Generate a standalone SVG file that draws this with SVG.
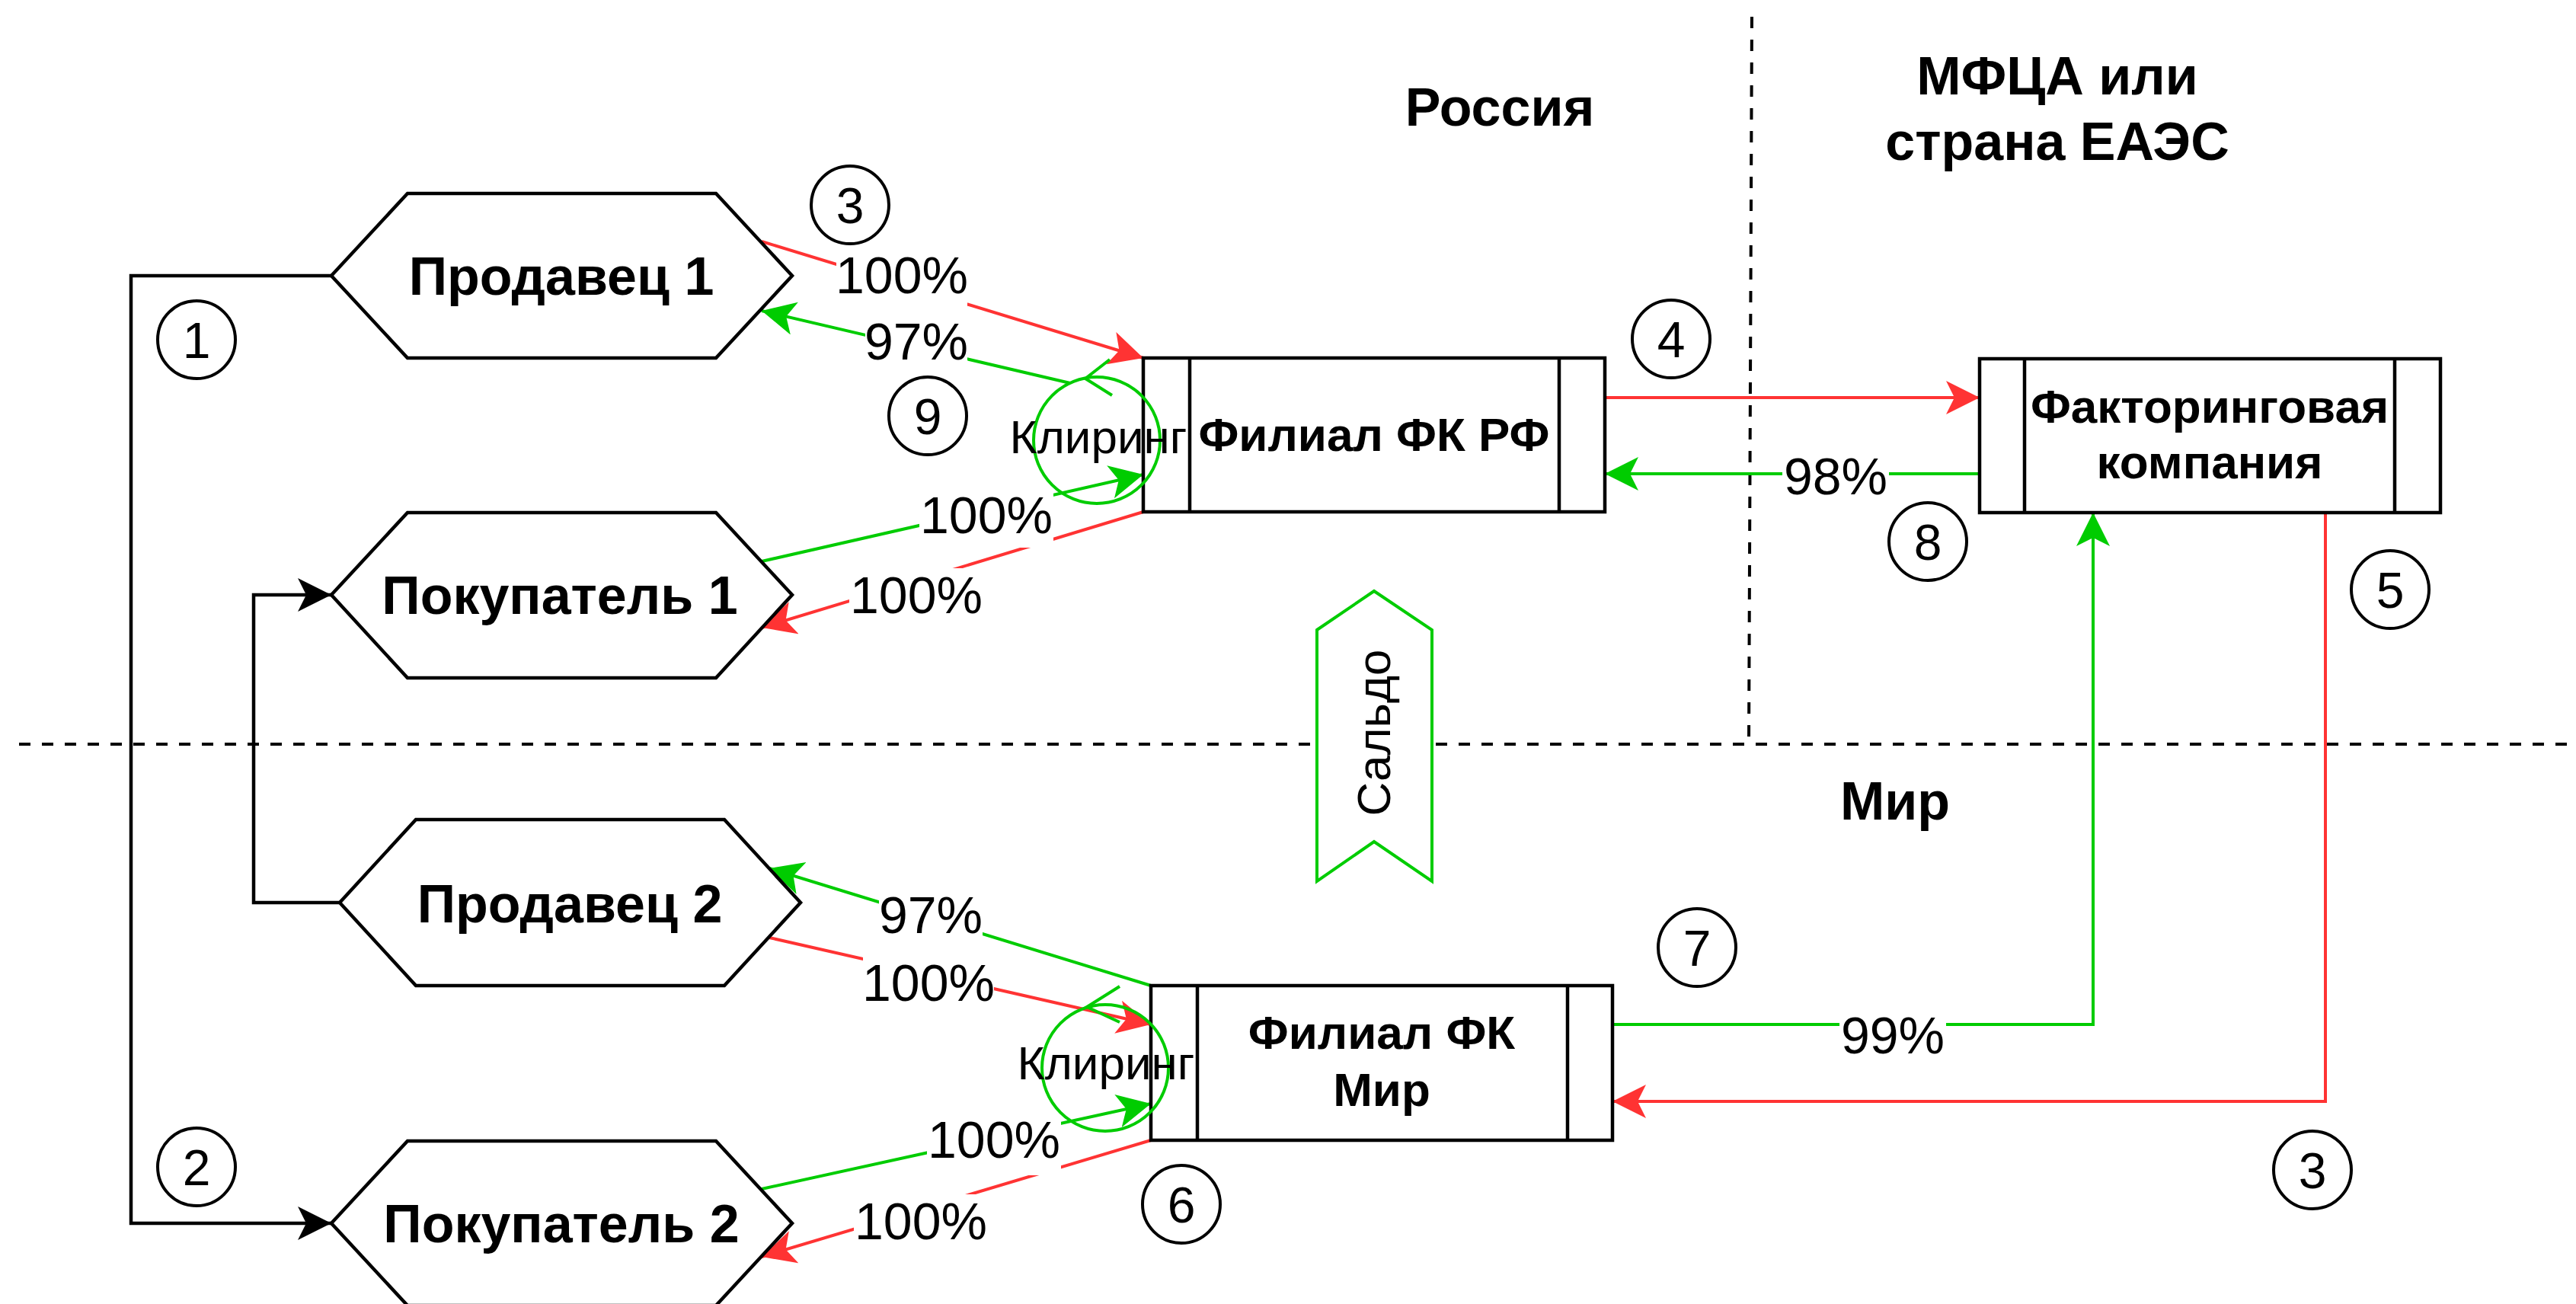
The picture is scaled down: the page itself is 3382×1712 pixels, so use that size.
<svg xmlns="http://www.w3.org/2000/svg" width="3382" height="1712" viewBox="0 0 3382 1712">
<style>
text{font-family:"Liberation Sans",Arial,Helvetica,sans-serif;fill:#000}
.t{font-size:70px;font-weight:bold;text-anchor:middle}
.b{font-size:62px;font-weight:bold;text-anchor:middle}
.p{font-size:68px;text-anchor:middle}
.n{font-size:66px;text-anchor:middle}
.k{font-size:62px;text-anchor:middle}
.shape{fill:#fff;stroke:#000;stroke-width:4.5}
.circ{fill:none;stroke:#000;stroke-width:4}
.dash{fill:none;stroke:#000;stroke-width:4;stroke-dasharray:15 15}
.blk{fill:none;stroke:#000;stroke-width:4.5}
.red{fill:none;stroke:#FF3333;stroke-width:4}
.grn{fill:none;stroke:#00CC00;stroke-width:4}
.lbg{fill:#fff;stroke:none}
</style>
<defs>
<marker id="mb" markerUnits="userSpaceOnUse" markerWidth="46" markerHeight="46" viewBox="0 0 46 46" refX="44" refY="22" orient="auto"><path d="M44,22 L0,0 L11,22 L0,44 Z" fill="#000"/></marker>
<marker id="mr" markerUnits="userSpaceOnUse" markerWidth="46" markerHeight="46" viewBox="0 0 46 46" refX="44" refY="22" orient="auto"><path d="M44,22 L0,0 L11,22 L0,44 Z" fill="#FF3333"/></marker>
<marker id="mg" markerUnits="userSpaceOnUse" markerWidth="46" markerHeight="46" viewBox="0 0 46 46" refX="44" refY="22" orient="auto"><path d="M44,22 L0,0 L11,22 L0,44 Z" fill="#00CC00"/></marker>
</defs>
<rect width="3382" height="1712" fill="#fff"/>

<g id="boundaries">
<line class="dash" x1="25" y1="977" x2="3382" y2="977"/>
<line class="dash" x1="2300" y1="22" x2="2296" y2="977"/>
</g>

<g id="region-labels">
<text class="t" x="1969" y="165">Россия</text>
<text class="t" x="2701" y="124">МФЦА или</text>
<text class="t" x="2701" y="210">страна ЕАЭС</text>
<text class="t" x="2488" y="1076">Мир</text>
</g>

<g id="connectors">
<polyline class="blk" points="435,362 172,362 172,1606 435,1606" marker-end="url(#mb)"/>
<polyline class="blk" points="446,1185 333,1185 333,781 435,781" marker-end="url(#mb)"/>
<line class="red" x1="1000" y1="317" x2="1501" y2="470" marker-end="url(#mr)"/>
<line class="red" x1="1501" y1="672" x2="1000" y2="824" marker-end="url(#mr)"/>
<line class="red" x1="2107" y1="522" x2="2599" y2="522" marker-end="url(#mr)"/>
<polyline class="red" points="3053,673 3053,1446 2117,1446" marker-end="url(#mr)"/>
<line class="red" x1="1010" y1="1231" x2="1511" y2="1345" marker-end="url(#mr)"/>
<line class="red" x1="1511" y1="1497" x2="1000" y2="1650" marker-end="url(#mr)"/>
<line class="grn" x1="1405" y1="503" x2="1000" y2="408" marker-end="url(#mg)"/>
<line class="grn" x1="1000" y1="737" x2="1501" y2="623" marker-end="url(#mg)"/>
<line class="grn" x1="2599" y1="622" x2="2107" y2="622" marker-end="url(#mg)"/>
<polyline class="grn" points="2117,1345 2748,1345 2748,673" marker-end="url(#mg)"/>
<line class="grn" x1="1511" y1="1294" x2="1010" y2="1140" marker-end="url(#mg)"/>
<line class="grn" x1="1000" y1="1561" x2="1511" y2="1449" marker-end="url(#mg)"/>
<rect class="lbg" x="1098" y="328" width="172" height="78"/>
<text class="p" x="1184" y="385">100%</text>
<rect class="lbg" x="1136" y="415" width="134" height="78"/>
<text class="p" x="1203" y="472">97%</text>
<rect class="lbg" x="1207" y="643" width="176" height="76"/>
<text class="p" x="1295" y="700">100%</text>
<rect class="lbg" x="1115" y="746" width="172" height="80"/>
<text class="p" x="1203" y="805">100%</text>
<rect class="lbg" x="2340" y="592" width="140" height="76"/>
<text class="p" x="2410" y="649">98%</text>
<rect class="lbg" x="2415" y="1326" width="140" height="76"/>
<text class="p" x="2485" y="1383">99%</text>
<rect class="lbg" x="1154" y="1168" width="136" height="76"/>
<text class="p" x="1222" y="1225">97%</text>
<rect class="lbg" x="1133" y="1257" width="172" height="76"/>
<text class="p" x="1219" y="1314">100%</text>
<rect class="lbg" x="1217" y="1463" width="176" height="80"/>
<text class="p" x="1305" y="1520">100%</text>
<rect class="lbg" x="1121" y="1568" width="176" height="78"/>
<text class="p" x="1209" y="1627">100%</text>
</g>

<g id="seller1">
<polygon class="shape" points="435,362 535,254 940,254 1040,362 940,470 535,470"/>
<text class="t" x="737" y="387">Продавец 1</text>
</g>
<g id="buyer1">
<polygon class="shape" points="435,781 535,673 940,673 1040,781 940,890 535,890"/>
<text class="t" x="735" y="806">Покупатель 1</text>
</g>
<g id="seller2">
<polygon class="shape" points="446,1185 546,1076 951,1076 1051,1185 951,1294 546,1294"/>
<text class="t" x="748" y="1211">Продавец 2</text>
</g>
<g id="buyer2">
<polygon class="shape" points="435,1606 535,1498 940,1498 1040,1606 940,1714 535,1714"/>
<text class="t" x="737" y="1631">Покупатель 2</text>
</g>

<g id="branch-rf">
<rect class="shape" x="1501" y="470" width="606" height="202"/>
<line class="blk" x1="1562" y1="470" x2="1562" y2="672"/>
<line class="blk" x1="2047" y1="470" x2="2047" y2="672"/>
<text class="b" x="1804" y="592">Филиал ФК РФ</text>
</g>
<g id="factoring">
<rect class="shape" x="2599" y="471" width="605" height="202"/>
<line class="blk" x1="2658" y1="471" x2="2658" y2="673"/>
<line class="blk" x1="3144" y1="471" x2="3144" y2="673"/>
<text class="b" x="2901" y="555">Факторинговая</text>
<text class="b" x="2901" y="628">компания</text>
</g>
<g id="branch-mir">
<rect class="shape" x="1511" y="1294" width="606" height="203"/>
<line class="blk" x1="1572" y1="1294" x2="1572" y2="1497"/>
<line class="blk" x1="2058" y1="1294" x2="2058" y2="1497"/>
<text class="b" x="1814" y="1377">Филиал ФК</text>
<text class="b" x="1814" y="1452">Мир</text>
</g>

<g id="clearing-rf">
<circle class="grn" cx="1440" cy="578" r="83"/>
<polyline class="grn" points="1457,472 1425,497 1460,519"/>
<text class="k" x="1442" y="595">Клиринг</text>
</g>
<g id="clearing-mir">
<circle class="grn" cx="1451" cy="1402" r="83"/>
<polyline class="grn" points="1470,1295 1427,1322 1470,1342"/>
<text class="k" x="1452" y="1417">Клиринг</text>
</g>

<g id="saldo">
<polygon points="1729,827 1804,776 1880,827 1880,1157 1804,1105 1729,1157" fill="#fff" stroke="#00CC00" stroke-width="4"/>
<text class="k" x="1804" y="983" transform="rotate(-90 1804 962)">Сальдо</text>
</g>

<g id="steps">
<g id="step1"><circle class="circ" cx="258" cy="446" r="51"/><text class="n" x="258" y="470">1</text></g>
<g id="step2"><circle class="circ" cx="258" cy="1532" r="51"/><text class="n" x="258" y="1556">2</text></g>
<g id="step3a"><circle class="circ" cx="1116" cy="269" r="51"/><text class="n" x="1116" y="293">3</text></g>
<g id="step4"><circle class="circ" cx="2194" cy="445" r="51"/><text class="n" x="2194" y="469">4</text></g>
<g id="step5"><circle class="circ" cx="3138" cy="774" r="51"/><text class="n" x="3138" y="798">5</text></g>
<g id="step6"><circle class="circ" cx="1551" cy="1581" r="51"/><text class="n" x="1551" y="1605">6</text></g>
<g id="step7"><circle class="circ" cx="2228" cy="1244" r="51"/><text class="n" x="2228" y="1268">7</text></g>
<g id="step8"><circle class="circ" cx="2531" cy="711" r="51"/><text class="n" x="2531" y="735">8</text></g>
<g id="step9"><circle class="circ" cx="1218" cy="546" r="51"/><text class="n" x="1218" y="570">9</text></g>
<g id="step3b"><circle class="circ" cx="3036" cy="1536" r="51"/><text class="n" x="3036" y="1560">3</text></g>
</g>
</svg>
